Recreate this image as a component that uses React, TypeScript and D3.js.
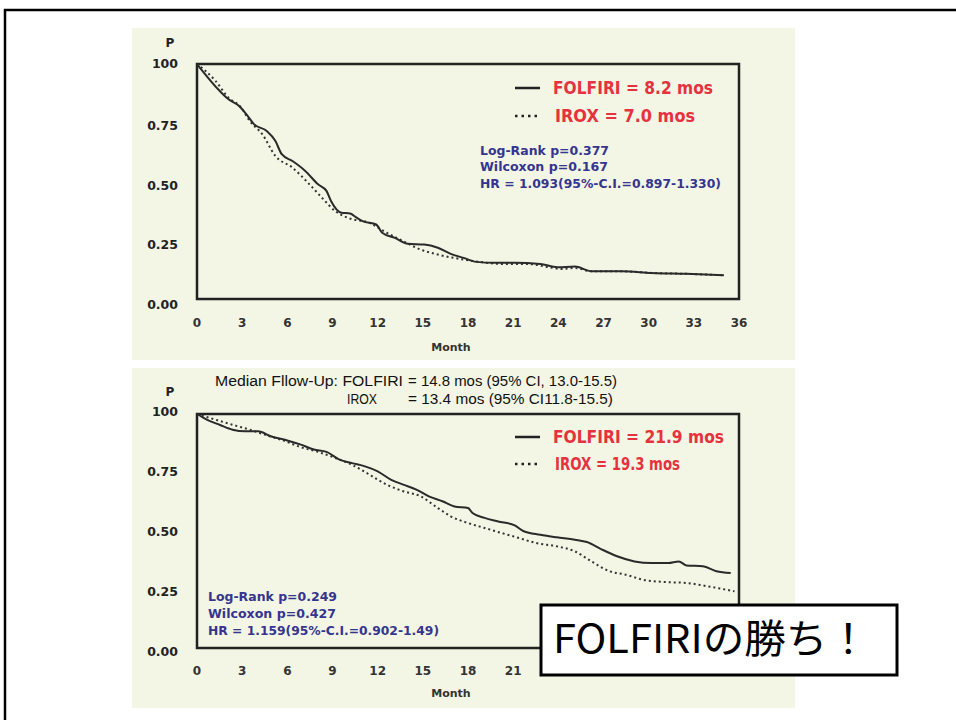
import React from "react";
import * as d3 from "d3";

// ---------- DATA ----------
const xTicks = [0, 3, 6, 9, 12, 15, 18, 21, 24, 27, 30, 33, 36];
const yTicks = [1, 0.75, 0.5, 0.25, 0];
const yTickLabels = ["100", "0.75", "0.50", "0.25", "0.00"];

// Top chart (PFS-like)
const topFolfiriMonths = [0, 1.5, 2.07, 2.78, 3.35, 3.78, 4.63, 5.2, 5.63, 6.34, 7.19, 8.04, 8.6, 8.9, 9.6, 10.17, 10.6, 11.0, 11.9, 12.3, 13.15, 14.0, 15.1, 16.0, 16.85, 17.7, 18.55, 19.7, 21.1, 22.8, 23.95, 25.1, 26.2, 28.2, 30.2, 32.5, 35.0];
const topFolfiriP = [1.0, 0.886, 0.851, 0.822, 0.78, 0.744, 0.715, 0.673, 0.616, 0.587, 0.545, 0.488, 0.46, 0.417, 0.367, 0.364, 0.346, 0.331, 0.317, 0.282, 0.26, 0.235, 0.232, 0.218, 0.192, 0.175, 0.158, 0.154, 0.154, 0.149, 0.135, 0.138, 0.118, 0.118, 0.111, 0.107, 0.101];
const topIroxMonths = [0, 1.22, 2.07, 2.93, 3.5, 4.35, 5.2, 6.34, 7.47, 8.3, 9.18, 10.0, 11.45, 12.6, 13.7, 14.86, 16.0, 17.7, 18.8, 20.25, 21.96, 23.4, 24.2, 25.1, 26.2, 28.2, 30.2, 32.5, 35.0];
const topIroxP = [1.0, 0.929, 0.858, 0.815, 0.758, 0.7, 0.609, 0.559, 0.488, 0.431, 0.374, 0.346, 0.324, 0.282, 0.246, 0.21, 0.189, 0.168, 0.158, 0.149, 0.149, 0.135, 0.128, 0.132, 0.118, 0.118, 0.111, 0.107, 0.101];

// Bottom chart (OS-like)
const botFolfiriMonths = [0, 0.65, 1.5, 2.36, 3.2, 4.06, 4.9, 6.05, 6.9, 7.76, 8.6, 9.46, 10.3, 11.16, 12.0, 12.87, 13.7, 14.57, 15.4, 16.3, 17.1, 18.0, 18.3, 19.1, 20.0, 21.1, 21.7, 22.8, 23.9, 25.1, 25.9, 26.8, 27.9, 29.06, 30.2, 31.3, 32.0, 32.5, 33.6, 34.5, 35.45];
const botFolfiriP = [1.0, 0.976, 0.954, 0.933, 0.926, 0.926, 0.905, 0.886, 0.869, 0.848, 0.838, 0.805, 0.79, 0.776, 0.755, 0.72, 0.698, 0.677, 0.648, 0.627, 0.605, 0.598, 0.577, 0.556, 0.541, 0.524, 0.499, 0.484, 0.473, 0.463, 0.453, 0.424, 0.392, 0.37, 0.363, 0.363, 0.37, 0.353, 0.349, 0.328, 0.32];
const botIroxMonths = [0, 1.22, 2.36, 3.5, 4.63, 5.77, 6.9, 8.04, 9.18, 10.3, 11.45, 12.6, 13.7, 14.86, 16.0, 16.85, 18.0, 19.1, 20.25, 21.4, 22.5, 23.95, 25.1, 26.2, 27.4, 28.5, 29.6, 31.05, 32.5, 33.9, 35.7];
const botIroxP = [1.0, 0.976, 0.954, 0.933, 0.909, 0.886, 0.858, 0.838, 0.812, 0.783, 0.741, 0.698, 0.67, 0.648, 0.598, 0.563, 0.534, 0.513, 0.491, 0.47, 0.449, 0.434, 0.413, 0.37, 0.328, 0.313, 0.292, 0.282, 0.278, 0.264, 0.242];

const topLegend = ["FOLFIRI = 8.2 mos", "IROX = 7.0 mos"];
const botLegend = ["FOLFIRI = 21.9 mos", "IROX = 19.3 mos"];
const topStats = ["Log-Rank p=0.377", "Wilcoxon p=0.167", "HR = 1.093(95%-C.I.=0.897-1.330)"];
const botStats = ["Log-Rank p=0.249", "Wilcoxon p=0.427", "HR = 1.159(95%-C.I.=0.902-1.49)"];
const followUp1 = ["Median Fllow-Up: FOLFIRI", "= 14.8 mos (95% CI, 13.0-15.5)"];
const followUp2 = ["IROX", "= 13.4 mos (95% CI11.8-15.5)"];
const overlayText = "FOLFIRIの勝ち！";

// ---------- STYLE ----------
const PANEL_BG = "#f3f5e5";
const RED = "#e5323e";
const BLUE = "#35358f";
const AXIS_FONT = "'DejaVu Sans', Verdana, sans-serif";

type Box = { left: number; top: number; right: number; bottom: number };

function zip(a: number[], b: number[]): [number, number][] {
  return a.map((m, i) => [m, b[i]] as [number, number]);
}

function KMChart(props: {
  panel: { x: number; y: number; w: number; h: number };
  box: Box;
  solid: [number, number][];
  dotted: [number, number][];
  yLabelOffsets: number[];
  tickLabelY: number;
  monthY: number;
  pY: number;
  legend: string[];
  legendX: number;
  legendY: number[];
  legendLen: number[];
  stats: string[];
  statsX: number;
  statsY: number[];
  statsLen: number[];
}) {
  const { panel, box } = props;
  const x = d3.scaleLinear().domain([0, 36]).range([box.left, box.right]);
  const y = d3.scaleLinear().domain([0, 1]).range([box.bottom, box.top]);
  const line = d3
    .line<[number, number]>()
    .x((d) => x(d[0]))
    .y((d) => y(d[1]))
    .curve(d3.curveMonotoneX);
  return (
    <g>
      <rect x={panel.x} y={panel.y} width={panel.w} height={panel.h} fill={PANEL_BG} />
      <rect
        x={box.left}
        y={box.top}
        width={box.right - box.left}
        height={box.bottom - box.top}
        fill="none"
        stroke="#222"
        strokeWidth={2.5}
      />
      <path d={line(props.dotted) || ""} fill="none" stroke="#333" strokeWidth={2} strokeDasharray="2,3" />
      <path d={line(props.solid) || ""} fill="none" stroke="#2a2a2a" strokeWidth={2} />
      {yTicks.map((t, i) => (
        <text
          key={"y" + i}
          x={box.left - 19}
          y={y(t) + props.yLabelOffsets[i]}
          textAnchor="end"
          dominantBaseline="central"
          fontFamily={AXIS_FONT}
          fontWeight="bold"
          fontSize={12.5}
          fill="#222"
        >
          {yTickLabels[i]}
        </text>
      ))}
      <text x={box.left - 27} y={props.pY} textAnchor="middle" dominantBaseline="central" fontFamily={AXIS_FONT} fontWeight="bold" fontSize={12} fill="#222">
        P
      </text>
      {xTicks.map((t) => (
        <text
          key={"x" + t}
          x={x(t)}
          y={props.tickLabelY}
          textAnchor="middle"
          dominantBaseline="central"
          fontFamily={AXIS_FONT}
          fontWeight="bold"
          fontSize={12}
          fill="#333"
        >
          {t}
        </text>
      ))}
      <text x={(box.left + box.right) / 2 - 17} y={props.monthY} textAnchor="middle" dominantBaseline="central" fontFamily={AXIS_FONT} fontWeight="bold" fontSize={11} fill="#333">
        Month
      </text>
      {/* legend */}
      <line x1={props.legendX} x2={props.legendX + 25} y1={props.legendY[0]} y2={props.legendY[0]} stroke="#222" strokeWidth={2.5} />
      <line x1={props.legendX} x2={props.legendX + 25} y1={props.legendY[1]} y2={props.legendY[1]} stroke="#222" strokeWidth={2.5} strokeDasharray="2.5,4" />
      {props.legend.map((s, i) => (
        <text
          key={"l" + i}
          x={props.legendX + 38 + (i === 1 ? 2 : 0)}
          y={props.legendY[i]}
          dominantBaseline="central"
          fontFamily={AXIS_FONT}
          fontWeight="bold"
          fontSize={17}
          fill={RED}
          textLength={props.legendLen[i]}
          lengthAdjust="spacingAndGlyphs"
        >
          {s}
        </text>
      ))}
      {props.stats.map((s, i) => (
        <text
          key={"s" + i}
          x={props.statsX}
          y={props.statsY[i]}
          dominantBaseline="central"
          fontFamily={AXIS_FONT}
          fontWeight="bold"
          fontSize={12}
          fill={BLUE}
          textLength={props.statsLen[i]}
          lengthAdjust="spacingAndGlyphs"
        >
          {s}
        </text>
      ))}
    </g>
  );
}

export default function App() {
  return (
    <svg
      width={956}
      height={720}
      viewBox="0 0 956 720"
      style={{ position: "absolute", left: 0, top: 0, background: "#fff" }}
    >
      <rect x={0} y={0} width={956} height={720} fill="#fff" />
      {/* slide frame */}
      <rect x={5} y={10} width={1000} height={800} fill="none" stroke="#000" strokeWidth={2.5} />

      <KMChart
        panel={{ x: 132, y: 28, w: 663, h: 332 }}
        box={{ left: 197, top: 64, right: 739, bottom: 299 }}
        solid={zip(topFolfiriMonths, topFolfiriP)}
        dotted={zip(topIroxMonths, topIroxP)}
        yLabelOffsets={[-1, 3, 3.5, 4, 5]}
        tickLabelY={323}
        monthY={347}
        pY={43}
        legend={topLegend}
        legendX={515}
        legendY={[88, 116]}
        legendLen={[160, 140]}
        stats={topStats}
        statsX={480}
        statsY={[151, 167, 184]}
        statsLen={[129, 128, 241]}
      />

      <KMChart
        panel={{ x: 132, y: 368, w: 663, h: 340 }}
        box={{ left: 197, top: 414, right: 739, bottom: 648 }}
        solid={zip(botFolfiriMonths, botFolfiriP)}
        dotted={zip(botIroxMonths, botIroxP)}
        yLabelOffsets={[-3, -1.5, 0, 1.5, 3]}
        tickLabelY={671}
        monthY={693}
        pY={392}
        legend={botLegend}
        legendX={515}
        legendY={[437, 464]}
        legendLen={[171, 125]}
        stats={botStats}
        statsX={208}
        statsY={[597, 614, 631]}
        statsLen={[129, 128, 231]}
      />

      {/* follow-up note */}
      <g fontFamily="'Liberation Sans', Arial, sans-serif" fontSize={14} fill="#111">
        <text x={215} y={386} textLength={188} lengthAdjust="spacingAndGlyphs">{followUp1[0]}</text>
        <text x={408} y={386} textLength={209} lengthAdjust="spacingAndGlyphs">{followUp1[1]}</text>
        <text x={347} y={404} textLength={30} lengthAdjust="spacingAndGlyphs">{followUp2[0]}</text>
        <text x={408} y={404} textLength={205} lengthAdjust="spacingAndGlyphs">{followUp2[1]}</text>
      </g>

      {/* overlay callout */}
      <rect x={541} y={605} width={356} height={70} fill="#fff" stroke="#000" strokeWidth={3} />
      <text
        x={553}
        y={653}
        fontFamily="'Noto Sans CJK JP', 'Noto Sans', sans-serif"
        fontSize={40}
        fill="#000"
        textLength={316}
        lengthAdjust="spacingAndGlyphs"
      >
        {overlayText}
      </text>
    </svg>
  );
}
